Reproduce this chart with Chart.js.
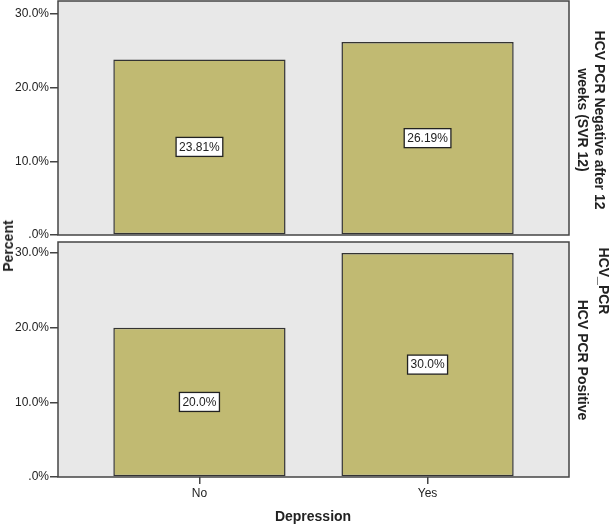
<!DOCTYPE html>
<html>
<head>
<meta charset="utf-8">
<script src="https://cdn.jsdelivr.net/npm/chart.js@4.4.1/dist/chart.umd.min.js"></script>
<style>
body { margin: 0; background: #fff; }
#wrap { position: relative; width: 614px; height: 526px; overflow: hidden; font-family: 'Liberation Sans', Arial, sans-serif; }
canvas { position: absolute; left: 0; }
.lbl { position: absolute; white-space: nowrap; font-weight: bold; font-size: 14px; line-height: 1; color: #222; transform: translate(-50%, -50%); }
.down { transform: translate(-50%, -50%) rotate(90deg); }
.up { transform: translate(-50%, -50%) rotate(-90deg); }
</style>
</head>
<body>
<div id="wrap">
  <canvas id="topPanel" width="614" height="244" style="top:0"></canvas>
  <canvas id="bottomPanel" width="614" height="286" style="top:240px"></canvas>
  <div class="lbl up" style="left:8px;top:246px">Percent</div>
  <div class="lbl" style="left:313px;top:516px">Depression</div>
  <div class="lbl down" style="left:600px;top:120px">HCV PCR Negative after 12</div>
  <div class="lbl down" style="left:583px;top:120px">weeks (SVR 12)</div>
  <div class="lbl down" style="left:604px;top:281px">HCV_PCR</div>
  <div class="lbl down" style="left:583px;top:360px">HCV PCR Positive</div>
</div>
<script>
// data
var categories = ['No', 'Yes'];
var negativeValues = [23.81, 26.19]; // HCV PCR Negative after 12 weeks (SVR 12)
var positiveValues = [20.0, 30.0];   // HCV PCR Positive
var negativeLabels = ['23.81%', '26.19%'];
var positiveLabels = ['20.0%', '30.0%'];
var yTicks = [0, 10, 20, 30];

Chart.defaults.font.family = "'Liberation Sans', Arial, sans-serif";
Chart.defaults.font.size = 12;

//grey panel background and dark frame like SPSS
var panelFrame = {
    id: 'panelFrame',
    beforeDraw: function(chart) {
        var a = chart.chartArea, ctx = chart.ctx;
        ctx.save();
        ctx.fillStyle = '#E8E8E8';
        ctx.fillRect(a.left, a.top, a.right - a.left, a.bottom - a.top);
        ctx.restore();
    },
    afterDraw: function(chart) {
        var a = chart.chartArea, ctx = chart.ctx;
        ctx.save();
        ctx.strokeStyle = '#444';
        ctx.lineWidth = 1.5;
        ctx.strokeRect(a.left, a.top, a.right - a.left, a.bottom - a.top);
        ctx.restore();
    }
};

//boxed value labels in the middle of each bar
var boxLabels = {
    id: 'boxLabels',
    afterDatasetsDraw: function(chart) {
        var ctx = chart.ctx;
        var texts = chart.data.datasets[0].valueLabels;
        chart.getDatasetMeta(0).data.forEach(function(bar, i) {
            var cy = (bar.y + bar.base) / 2;
            ctx.save();
            ctx.font = "12px 'Liberation Sans', Arial, sans-serif";
            var w = ctx.measureText(texts[i]).width + 6;
            var h = 19;
            ctx.fillStyle = '#fff';
            ctx.fillRect(bar.x - w / 2, cy - h / 2, w, h);
            ctx.strokeStyle = '#222';
            ctx.lineWidth = 1.3;
            ctx.strokeRect(bar.x - w / 2, cy - h / 2, w, h);
            ctx.fillStyle = '#222';
            ctx.textAlign = 'center';
            ctx.textBaseline = 'middle';
            ctx.fillText(texts[i], bar.x, cy + 0.5);
            ctx.restore();
        });
    }
};

function makePanel(canvasId, values, labels, yMax, pad, showX) {
    var xScale = {
        type: 'linear',
        min: -0.62,
        max: 1.62,
        offset: false,
        display: showX,
        afterBuildTicks: function(s) {
            s.ticks = categories.map(function(c, i) { return { value: i }; });
        },
        ticks: {
            callback: function(v) { return categories[v]; },
            color: '#222',
            padding: 2,
            autoSkip: false,
            maxRotation: 0
        },
        grid: { offset: false, drawOnChartArea: false, tickLength: 7, color: '#444', lineWidth: 1.5 },
        border: { display: false }
    };
    if (showX) {
        xScale.afterFit = function(s) {
            s.height = 49;
            s.paddingLeft = 0;
            s.paddingRight = 0;
        };
    }

    return new Chart(document.getElementById(canvasId), {
        type: 'bar',
        data: {
            datasets: [{
                data: values.map(function(v, i) { return { x: i, y: v }; }),
                valueLabels: labels,
                backgroundColor: '#C1BA72',
                borderColor: '#333',
                borderWidth: 1.5,
                borderSkipped: false,
                barPercentage: 0.755,
                categoryPercentage: 1
            }]
        },
        options: {
            responsive: false,
            animation: false,
            layout: { padding: pad },
            plugins: {
                legend: { display: false },
                tooltip: { enabled: false }
            },
            scales: {
                x: xScale,
                y: {
                    min: 0,
                    max: yMax,
                    afterBuildTicks: function(s) {
                        s.ticks = yTicks.map(function(v) { return { value: v }; });
                    },
                    ticks: {
                        callback: function(v) { return v === 0 ? '.0%' : v.toFixed(1) + '%'; },
                        color: '#222',
                        padding: 1
                    },
                    grid: { drawOnChartArea: false, tickLength: 8, color: '#444', lineWidth: 1.5 },
                    border: { display: false },
                    afterFit: function(s) {
                        s.width = 58;
                        s.paddingTop = 0;
                        s.paddingBottom = 0;
                    }
                }
            }
        },
        plugins: [panelFrame, boxLabels]
    });
}

makePanel('topPanel', negativeValues, negativeLabels, 31.76, { left: 0, right: 45, top: 1, bottom: 9 }, false);
makePanel('bottomPanel', positiveValues, positiveLabels, 31.47, { left: 0, right: 45, top: 2, bottom: 0 }, true);
</script>
</body>
</html>
